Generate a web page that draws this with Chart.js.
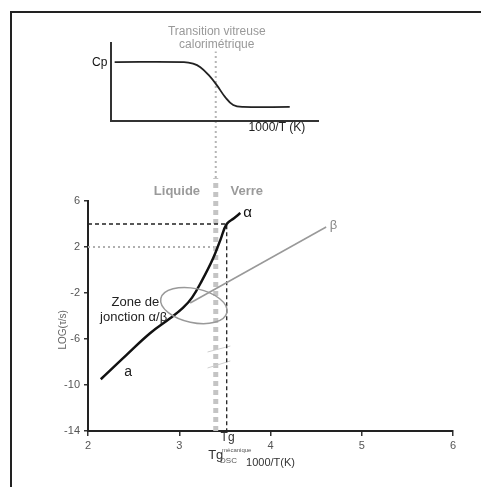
<!DOCTYPE html>
<html lang="fr">
<head>
<meta charset="UTF-8">
<title>Transition vitreuse - LOG(tau) vs 1000/T</title>
<script src="https://cdn.jsdelivr.net/npm/chart.js"></script>
<style>
  body { margin: 0; background: #fff; }
  .wrap { position: relative; width: 481px; height: 487px; background: #fff; overflow: hidden; }
  .frame { position: absolute; left: 10px; top: 11px; right: -5px; bottom: -5px;
           border-left: 2px solid #222; border-top: 2px solid #222; }
  canvas { position: absolute; left: 0; top: 0; }
</style>
</head>
<body>
<div class="wrap">
  <div class="frame"></div>
  <canvas id="mainChart" width="481" height="487"></canvas>
  <canvas id="cpChart" width="481" height="140"></canvas>
</div>

<script>
// --- data, main plot (x = 1000/T, y = log tau) ---
const xTicks = [2, 3, 4, 5, 6];
const yTicks = [-14, -10, -6, -2, 2, 6];

const alphaX = [2.14, 2.42, 2.68, 2.90, 3.04, 3.14, 3.25, 3.37, 3.45, 3.52, 3.60, 3.67];
const alphaY = [-9.5, -7.4, -5.5, -4.2, -3.3, -2.4, -0.9, 1.0, 2.6, 4.0, 4.5, 4.95];

const betaX = [3.12, 4.61];
const betaY = [-2.87, 3.74];

// Tg mecanique : log tau = 4
const tgMecaX = [2, 3.52, 3.52];
const tgMecaY = [4, 4, -14];

// log tau = 2 (dotted)
const tau2X = [2, 3.38];
const tau2Y = [2, 2];

// Tg DSC vertical
const tgDscX = [3.40, 3.40];
const tgDscY = [-14, 8];
const tgDscTopY = [8, 19];

// small faint marks crossing Tg DSC
const mark1X = [3.31, 3.56];
const mark1Y = [-7.13, -6.61];
const mark2X = [3.31, 3.56];
const mark2Y = [-8.52, -7.91];

// --- data, Cp inset ---
const cpX = [2.29, 3.05, 3.15, 3.23, 3.32, 3.41, 3.50, 3.59, 3.70, 4.21];
const cpY = [7.56, 7.55, 7.35, 6.9, 5.9, 4.6, 3.1, 2.05, 1.8, 1.8];

const pts = (xs, ys) => xs.map((x, i) => ({ x: x, y: ys[i] }));
const FONT = "'Liberation Sans', Arial, sans-serif";

function line(data, color, width, dash, extra) {
  return Object.assign({
    data: data, showLine: true, pointRadius: 0, borderColor: color,
    borderWidth: width, borderDash: dash || [], fill: false
  }, extra || {});
}

// annotation texts (positions in data units of the main plot)
const mainLabels = [
  { t: 'Liquide', x: 2.975, y: 6.87, size: 13, bold: true, color: '#9a9a9a' },
  { t: 'Verre', x: 3.74, y: 6.87, size: 13, bold: true, color: '#9a9a9a' },
  { t: 'α', x: 3.70, y: 5.0, size: 15, color: '#111', align: 'left' },
  { t: 'β', x: 4.65, y: 3.9, size: 13, color: '#888', align: 'left' },
  { t: 'a', x: 2.44, y: -8.87, size: 14, color: '#222' },
  { t: 'Zone de', x: 2.52, y: -2.78, size: 13, color: '#222' },
  { t: 'jonction α/β', x: 2.50, y: -4.09, size: 13, color: '#222' },
  { t: 'Tg', x: 3.53, y: -14.6, size: 12, color: '#333' },
  { t: 'mécanique', x: 3.63, y: -15.65, size: 6, color: '#555' },
  { t: 'Tg', x: 3.40, y: -16.1, size: 13, color: '#333' },
  { t: 'DSC', x: 3.54, y: -16.55, size: 8, color: '#555' },
  { t: '1000/T(K)', x: 4.0, y: -16.8, size: 11, color: '#333' }
];

const mainPlugin = {
  id: 'mainExtras',
  afterDatasetsDraw(chart) {
    const { ctx, scales: { x, y } } = chart;
    ctx.save();
    // ellipse "zone de jonction"
    const cx = x.getPixelForValue(3.16), cy = y.getPixelForValue(-3.09);
    const rx = x.getPixelForValue(3.16 + 0.37) - cx;
    const ry = cy - y.getPixelForValue(-3.09 + 1.48);
    ctx.beginPath();
    ctx.ellipse(cx, cy, rx, ry, 0.21, 0, Math.PI * 2);
    ctx.strokeStyle = '#999';
    ctx.lineWidth = 1.5;
    ctx.stroke();

    ctx.textBaseline = 'middle';
    mainLabels.forEach(l => {
      ctx.font = (l.bold ? 'bold ' : '') + l.size + 'px ' + FONT;
      ctx.fillStyle = l.color;
      ctx.textAlign = l.align || 'center';
      ctx.fillText(l.t, x.getPixelForValue(l.x), y.getPixelForValue(l.y));
    });

    // y axis title
    ctx.translate(x.getPixelForValue(1.73), y.getPixelForValue(-5.2));
    ctx.rotate(-Math.PI / 2);
    ctx.font = '10px ' + FONT;
    ctx.fillStyle = '#666';
    ctx.textAlign = 'center';
    ctx.fillText('LOG(τ/s)', 0, 0);
    ctx.restore();
  }
};

new Chart(document.getElementById('mainChart'), {
  type: 'scatter',
  data: {
    datasets: [
      line(pts(alphaX, alphaY), '#111', 2.5, null, { tension: 0.4 }),
      line(pts(betaX, betaY), '#999', 1.5),
      line(pts(tgMecaX, tgMecaY), '#222', 1.3, [4, 3]),
      line(pts(tau2X, tau2Y), '#b0b0b0', 2, [2, 3]),
      line(pts(mark1X, mark1Y), '#cfcfcf', 1),
      line(pts(mark2X, mark2Y), '#cfcfcf', 1),
      line(pts(tgDscX, tgDscY), '#c4c4c4', 5, [5, 4], { clip: false }),
      line(pts(tgDscX, tgDscTopY), '#b5b5b5', 2, [2, 3], { clip: false })
    ]
  },
  options: {
    responsive: false,
    animation: false,
    events: [],
    layout: { padding: { left: 0, top: 201, right: 28, bottom: 0 } },
    plugins: { legend: { display: false }, tooltip: { enabled: false } },
    scales: {
      x: {
        type: 'linear', min: 2, max: 6,
        afterBuildTicks: s => { s.ticks = xTicks.map(v => ({ value: v })); },
        afterFit: s => { s.height = 56; },
        ticks: { color: '#555', padding: 3, font: { family: FONT, size: 11 } },
        grid: { drawOnChartArea: false, tickLength: 5, color: '#333', lineWidth: 1.5 },
        border: { color: '#222', width: 2 }
      },
      y: {
        type: 'linear', min: -14, max: 6,
        afterBuildTicks: s => { s.ticks = yTicks.map(v => ({ value: v })); },
        afterFit: s => { s.width = 88; },
        ticks: { color: '#555', padding: 4, font: { family: FONT, size: 11 } },
        grid: { drawOnChartArea: false, tickLength: 4, color: '#333', lineWidth: 1.5 },
        border: { color: '#222', width: 2 }
      }
    }
  },
  plugins: [mainPlugin]
});

// --- Cp inset ---
const cpLabels = [
  { t: 'Cp', x: 2.21, y: 7.44, size: 12, color: '#111', align: 'right' },
  { t: '1000/T (K)', x: 4.07, y: -0.9, size: 12, color: '#222' },
  { t: 'Transition vitreuse', x: 3.41, y: 11.5, size: 12, color: '#999' },
  { t: 'calorimétrique', x: 3.41, y: 9.74, size: 12, color: '#999' }
];

const cpPlugin = {
  id: 'cpExtras',
  afterDatasetsDraw(chart) {
    const { ctx, scales: { x, y } } = chart;
    ctx.save();
    ctx.textBaseline = 'middle';
    cpLabels.forEach(l => {
      ctx.font = l.size + 'px ' + FONT;
      ctx.fillStyle = l.color;
      ctx.textAlign = l.align || 'center';
      ctx.fillText(l.t, x.getPixelForValue(l.x), y.getPixelForValue(l.y));
    });
    ctx.restore();
  }
};

new Chart(document.getElementById('cpChart'), {
  type: 'scatter',
  data: {
    datasets: [
      line(pts(cpX, cpY), '#222', 1.8, null, { tension: 0.4 })
    ]
  },
  options: {
    responsive: false,
    animation: false,
    events: [],
    layout: { padding: { left: 111, top: 43, right: 163, bottom: 19 } },
    plugins: { legend: { display: false }, tooltip: { enabled: false } },
    scales: {
      x: {
        type: 'linear', min: 2.25, max: 4.52,
        afterFit: s => { s.height = 0; },
        ticks: { display: false },
        grid: { display: false },
        border: { color: '#333', width: 2 }
      },
      y: {
        type: 'linear', min: 0, max: 10,
        afterFit: s => { s.width = 0; },
        ticks: { display: false },
        grid: { display: false },
        border: { color: '#333', width: 2 }
      }
    }
  },
  plugins: [cpPlugin]
});
</script>
</body>
</html>
